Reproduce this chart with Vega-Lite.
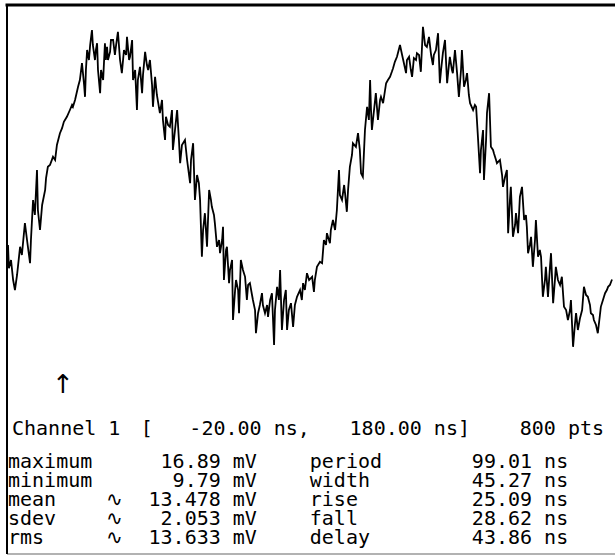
{
  "$schema": "https://vega.github.io/schema/vega-lite/v6.json",
  "width": 608,
  "height": 549,
  "autosize": {"type": "none"},
  "padding": {"left": 7, "top": 5, "right": 0, "bottom": 3},
  "background": "white",
  "config": {"view": {"stroke": null}},
  "layer": [
    {
      "layer": [
        {
          "data": {"values": [
            {"t":-20.0,"v":12.11},{"t":-19.7,"v":11.60},{"t":-19.0,"v":11.78},{"t":-18.3,"v":11.34},{"t":-17.7,"v":11.12},{"t":-17.0,"v":11.45},{"t":-16.0,"v":12.07},{"t":-15.4,"v":11.89},{"t":-14.4,"v":12.59},{"t":-13.7,"v":12.22},{"t":-12.7,"v":11.71},{"t":-12.4,"v":12.22},{"t":-11.7,"v":13.10},{"t":-11.1,"v":12.77},{"t":-10.4,"v":13.76},{"t":-10.1,"v":12.88},{"t":-9.4,"v":12.44},{"t":-8.7,"v":12.99},{"t":-7.7,"v":13.32},{"t":-7.4,"v":13.58},{"t":-6.8,"v":13.83},{"t":-6.1,"v":13.87},{"t":-5.1,"v":14.05},{"t":-4.4,"v":13.98},{"t":-3.8,"v":14.31},{"t":-2.8,"v":14.57},{"t":-2.1,"v":14.68},{"t":-1.5,"v":14.82},{"t":-0.5,"v":14.93},{"t":0.5,"v":15.08},{"t":1.2,"v":15.19},{"t":1.5,"v":15.15},{"t":2.2,"v":15.30},{"t":3.2,"v":15.59},{"t":3.8,"v":15.74},{"t":4.5,"v":16.11},{"t":5.2,"v":15.63},{"t":5.5,"v":15.37},{"t":5.8,"v":15.96},{"t":6.2,"v":16.40},{"t":6.8,"v":16.18},{"t":7.2,"v":16.51},{"t":7.8,"v":16.84},{"t":8.1,"v":16.51},{"t":8.8,"v":16.18},{"t":9.1,"v":16.40},{"t":9.5,"v":16.55},{"t":9.8,"v":15.96},{"t":10.5,"v":15.45},{"t":10.8,"v":15.96},{"t":11.5,"v":15.74},{"t":12.1,"v":16.55},{"t":12.4,"v":16.18},{"t":12.8,"v":16.47},{"t":13.1,"v":16.18},
            {"t":13.8,"v":16.36},{"t":14.1,"v":16.62},{"t":14.8,"v":16.62},{"t":15.4,"v":16.29},{"t":15.8,"v":16.51},{"t":16.4,"v":16.80},{"t":17.1,"v":16.18},{"t":17.7,"v":15.89},{"t":18.4,"v":16.40},{"t":19.1,"v":16.29},{"t":19.4,"v":16.69},{"t":20.1,"v":16.18},{"t":20.4,"v":16.25},{"t":21.1,"v":16.62},{"t":21.4,"v":15.74},{"t":22.1,"v":15.96},{"t":22.7,"v":15.08},{"t":23.0,"v":15.74},{"t":23.7,"v":16.03},{"t":24.4,"v":15.45},{"t":24.7,"v":15.85},{"t":25.4,"v":16.36},{"t":26.0,"v":16.07},{"t":26.4,"v":15.96},{"t":27.0,"v":16.18},{"t":27.7,"v":15.63},{"t":28.0,"v":15.15},{"t":28.7,"v":15.81},{"t":29.3,"v":15.41},{"t":30.3,"v":15.01},{"t":31.0,"v":15.30},{"t":31.3,"v":14.86},{"t":32.0,"v":14.42},{"t":32.3,"v":14.93},{"t":33.0,"v":14.75},{"t":33.6,"v":14.71},{"t":34.3,"v":15.08},{"t":34.6,"v":14.20},{"t":35.3,"v":14.64},{"t":36.0,"v":15.08},{"t":36.6,"v":14.42},{"t":37.0,"v":13.91},{"t":37.6,"v":14.31},{"t":38.6,"v":14.42},{"t":39.3,"v":13.98},{"t":40.3,"v":13.47},{"t":40.6,"v":13.98},{"t":41.3,"v":14.35},{"t":41.9,"v":13.10},{"t":42.6,"v":13.65},{"t":43.2,"v":13.47},{"t":43.6,"v":13.10},
            {"t":44.2,"v":11.85},{"t":44.6,"v":12.44},{"t":45.2,"v":12.81},{"t":45.9,"v":12.07},{"t":46.6,"v":13.32},{"t":47.2,"v":13.10},{"t":47.5,"v":12.95},{"t":48.2,"v":12.77},{"t":48.5,"v":12.59},{"t":49.2,"v":12.07},{"t":49.9,"v":12.22},{"t":50.2,"v":11.93},{"t":50.9,"v":12.22},{"t":51.2,"v":12.51},{"t":51.5,"v":11.34},{"t":52.2,"v":12.00},{"t":52.5,"v":12.07},{"t":53.2,"v":11.27},{"t":53.5,"v":11.56},{"t":54.2,"v":11.78},{"t":54.5,"v":10.46},{"t":55.2,"v":11.12},{"t":55.5,"v":11.34},{"t":56.2,"v":11.12},{"t":56.5,"v":10.61},{"t":57.1,"v":11.78},{"t":57.8,"v":11.56},{"t":58.5,"v":11.41},{"t":59.1,"v":10.90},{"t":59.5,"v":11.23},{"t":60.1,"v":11.27},{"t":60.8,"v":11.01},{"t":61.1,"v":10.90},{"t":61.8,"v":10.68},{"t":62.1,"v":10.17},{"t":62.8,"v":10.61},{"t":63.4,"v":10.79},{"t":64.1,"v":11.05},{"t":64.4,"v":10.79},{"t":65.1,"v":10.61},{"t":65.8,"v":10.79},{"t":66.1,"v":10.53},{"t":66.8,"v":10.90},{"t":67.4,"v":11.05},{"t":68.1,"v":9.91},{"t":68.4,"v":10.68},{"t":69.1,"v":11.19},{"t":69.7,"v":10.90},{"t":70.1,"v":11.56},{"t":70.7,"v":10.24},{"t":71.4,"v":10.90},{"t":72.0,"v":11.12},{"t":72.4,"v":10.24},{"t":73.0,"v":10.68},{"t":73.7,"v":10.83},{"t":74.4,"v":10.31},{"t":75.0,"v":10.79},{"t":75.7,"v":10.97},{"t":76.7,"v":11.12},
            {"t":77.3,"v":10.90},{"t":77.7,"v":11.27},{"t":78.3,"v":11.12},{"t":79.0,"v":11.49},{"t":79.7,"v":11.34},{"t":80.7,"v":11.41},{"t":81.3,"v":11.08},{"t":81.6,"v":11.34},{"t":82.3,"v":11.63},{"t":83.3,"v":11.74},{"t":84.0,"v":11.71},{"t":84.6,"v":12.22},{"t":85.3,"v":12.11},{"t":85.6,"v":12.37},{"t":86.6,"v":12.15},{"t":86.9,"v":12.44},{"t":87.6,"v":12.66},{"t":88.3,"v":12.44},{"t":88.9,"v":12.88},{"t":89.6,"v":13.76},{"t":89.9,"v":13.21},{"t":90.6,"v":13.10},{"t":91.3,"v":13.43},{"t":91.6,"v":13.25},{"t":92.2,"v":12.84},{"t":92.6,"v":13.32},{"t":93.2,"v":13.83},{"t":93.9,"v":14.09},{"t":94.2,"v":14.35},{"t":95.2,"v":14.27},{"t":95.9,"v":14.57},{"t":96.5,"v":14.20},{"t":96.9,"v":13.69},{"t":97.5,"v":13.61},{"t":97.9,"v":14.20},{"t":98.2,"v":14.64},{"t":98.9,"v":15.15},{"t":99.5,"v":14.86},{"t":99.9,"v":15.74},{"t":100.2,"v":15.08},{"t":100.5,"v":14.64},{"t":101.2,"v":15.08},{"t":101.8,"v":15.45},{"t":102.5,"v":14.86},{"t":103.2,"v":15.30},{"t":103.5,"v":15.37},{"t":104.2,"v":15.23},{"t":105.2,"v":15.67},{"t":105.8,"v":15.74},{"t":106.5,"v":15.81},{"t":107.1,"v":15.92},{"t":107.5,"v":16.00},{"t":108.1,"v":16.14},{"t":108.8,"v":16.25},{"t":109.8,"v":16.51},
            {"t":110.5,"v":16.29},{"t":111.1,"v":16.11},{"t":111.8,"v":15.89},{"t":112.1,"v":16.18},{"t":112.8,"v":16.25},{"t":113.4,"v":15.96},{"t":113.8,"v":15.81},{"t":114.4,"v":16.22},{"t":115.1,"v":16.18},{"t":115.4,"v":16.33},{"t":116.1,"v":16.29},{"t":116.7,"v":15.92},{"t":117.4,"v":16.91},{"t":118.1,"v":16.51},{"t":118.7,"v":16.47},{"t":119.4,"v":16.69},{"t":120.1,"v":16.29},{"t":120.7,"v":16.07},{"t":121.0,"v":16.29},{"t":121.7,"v":16.40},{"t":122.4,"v":16.77},{"t":123.0,"v":15.67},{"t":123.4,"v":15.96},{"t":124.0,"v":16.33},{"t":124.7,"v":16.62},{"t":125.4,"v":15.67},{"t":126.0,"v":16.07},{"t":126.3,"v":16.25},{"t":127.0,"v":15.96},{"t":127.3,"v":15.89},{"t":128.0,"v":16.40},{"t":128.7,"v":15.89},{"t":129.3,"v":15.37},{"t":130.0,"v":15.96},{"t":130.3,"v":16.40},{"t":131.0,"v":15.59},{"t":131.6,"v":15.74},{"t":132.0,"v":15.89},{"t":132.6,"v":15.41},{"t":133.0,"v":15.23},{"t":134.0,"v":15.08},{"t":134.6,"v":15.19},{"t":135.0,"v":15.15},{"t":135.6,"v":14.49},{"t":136.3,"v":13.69},{"t":136.6,"v":14.20},{"t":137.3,"v":14.64},{"t":137.6,"v":13.54},{"t":138.3,"v":14.42},{"t":138.6,"v":15.01},{"t":139.3,"v":15.45},{"t":139.6,"v":14.86},{"t":139.9,"v":14.27},{"t":140.6,"v":14.20},{"t":140.9,"v":14.13},{"t":141.6,"v":13.98},{"t":141.9,"v":13.91},{"t":142.9,"v":13.98},{"t":143.6,"v":13.65},{"t":143.9,"v":13.39},{"t":144.6,"v":13.61},
            {"t":145.2,"v":13.76},{"t":145.6,"v":12.37},{"t":146.2,"v":13.10},{"t":146.5,"v":13.39},{"t":147.2,"v":12.29},{"t":147.9,"v":12.55},{"t":148.2,"v":12.81},{"t":148.9,"v":12.37},{"t":149.5,"v":13.17},{"t":150.2,"v":13.39},{"t":150.9,"v":12.66},{"t":151.5,"v":12.77},{"t":151.8,"v":12.51},{"t":152.2,"v":11.93},{"t":152.8,"v":12.11},{"t":153.2,"v":12.29},{"t":153.8,"v":11.63},{"t":154.5,"v":12.22},{"t":154.8,"v":12.66},{"t":155.5,"v":11.85},{"t":156.1,"v":12.00},{"t":156.5,"v":11.85},{"t":157.1,"v":10.97},{"t":157.8,"v":11.34},{"t":158.1,"v":11.63},{"t":158.8,"v":10.97},{"t":159.5,"v":11.67},{"t":159.8,"v":11.93},{"t":160.5,"v":10.83},{"t":161.1,"v":11.34},{"t":161.4,"v":11.63},{"t":162.1,"v":11.34},{"t":162.8,"v":11.23},{"t":163.4,"v":11.41},{"t":164.1,"v":10.75},{"t":164.8,"v":10.68},{"t":165.4,"v":10.46},{"t":166.1,"v":10.68},{"t":166.4,"v":10.90},{"t":167.1,"v":9.87},{"t":167.7,"v":10.35},{"t":168.1,"v":10.61},{"t":168.7,"v":10.24},{"t":169.4,"v":10.50},{"t":170.1,"v":10.68},{"t":170.7,"v":11.19},{"t":171.4,"v":11.01},{"t":172.0,"v":10.97},{"t":172.7,"v":10.79},{"t":173.0,"v":10.61},{"t":173.7,"v":10.57},{"t":174.0,"v":10.46},{"t":174.7,"v":10.35},{"t":175.3,"v":10.17},{"t":176.0,"v":10.57},{"t":176.3,"v":10.75},{"t":177.0,"v":10.90},{"t":177.7,"v":11.05},{"t":178.3,"v":11.12},{"t":178.7,"v":11.19},{"t":179.3,"v":11.23},{"t":180.0,"v":11.35}
          ]},
          "mark": {"type": "line", "color": "black", "strokeWidth": 1.8, "clip": true},
          "encoding": {
            "x": {"field": "t", "type": "quantitative", "scale": {"domain": [-20.33, 180.99], "nice": false, "zero": false}, "axis": null},
            "y": {"field": "v", "type": "quantitative", "scale": {"domain": [5.312, 17.39], "nice": false, "zero": false}, "axis": null}
          }
        },
        {
          "data": {"values": [{}]},
          "mark": {"type": "rule", "color": "black", "strokeWidth": 3, "strokeCap": "square"},
          "encoding": {"y": {"datum": 17.39, "type": "quantitative", "scale": {"domain": [5.312, 17.39], "nice": false, "zero": false}, "axis": null}}
        },
        {
          "data": {"values": [{}]},
          "mark": {"type": "rule", "color": "#999999", "strokeWidth": 1.5},
          "encoding": {"y": {"datum": 5.312, "type": "quantitative", "scale": {"domain": [5.312, 17.39], "nice": false, "zero": false}, "axis": null}}
        },
        {
          "data": {"values": [{}]},
          "mark": {"type": "rule", "color": "black", "strokeWidth": 2},
          "encoding": {"x": {"datum": -20.33, "type": "quantitative", "scale": {"domain": [-20.33, 180.99], "nice": false, "zero": false}, "axis": null}}
        }
      ]
    },
    {
      "data": {"values": [
        {"s":"↑","c":9.2,"r":22.62,"a":"A"},
        {"s":"Channel 1","c":0.82,"r":25.24,"a":"l"},
        {"s":"[","c":22.0,"r":25.24,"a":"l"},
        {"s":"-20.00 ns,","c":49.8,"r":25.24,"a":"r"},
        {"s":"180.00 ns]","c":76.15,"r":25.24,"a":"r"},
        {"s":"800 pts","c":98.2,"r":25.24,"a":"r"},
        {"s":"maximum","c":0.16,"r":27.2,"a":"l"},
        {"s":"16.89 mV","c":41.1,"r":27.2,"a":"r"},
        {"s":"period","c":49.8,"r":27.2,"a":"l"},
        {"s":"99.01 ns","c":92.3,"r":27.2,"a":"r"},
        {"s":"minimum","c":0.16,"r":28.33,"a":"l"},
        {"s":"9.79 mV","c":41.1,"r":28.33,"a":"r"},
        {"s":"width","c":49.8,"r":28.33,"a":"l"},
        {"s":"45.27 ns","c":92.3,"r":28.33,"a":"r"},
        {"s":"mean","c":0.16,"r":29.46,"a":"l"},
        {"s":"∿","c":17.6,"r":29.46,"a":"c"},
        {"s":"13.478 mV","c":41.1,"r":29.46,"a":"r"},
        {"s":"rise","c":49.8,"r":29.46,"a":"l"},
        {"s":"25.09 ns","c":92.3,"r":29.46,"a":"r"},
        {"s":"sdev","c":0.16,"r":30.6,"a":"l"},
        {"s":"∿","c":17.6,"r":30.6,"a":"c"},
        {"s":"2.053 mV","c":41.1,"r":30.6,"a":"r"},
        {"s":"fall","c":49.8,"r":30.6,"a":"l"},
        {"s":"28.62 ns","c":92.3,"r":30.6,"a":"r"},
        {"s":"rms","c":0.16,"r":31.73,"a":"l"},
        {"s":"∿","c":17.6,"r":31.73,"a":"c"},
        {"s":"13.633 mV","c":41.1,"r":31.73,"a":"r"},
        {"s":"delay","c":49.8,"r":31.73,"a":"l"},
        {"s":"43.86 ns","c":92.3,"r":31.73,"a":"r"}
      ]},
      "encoding": {
        "x": {"field": "c", "type": "quantitative", "scale": {"domain": [0, 100], "nice": false, "zero": false}, "axis": null},
        "y": {"field": "r", "type": "quantitative", "scale": {"domain": [0, 32.68], "nice": false, "zero": false, "reverse": true}, "axis": null},
        "text": {"field": "s"}
      },
      "layer": [
        {"transform": [{"filter": "datum.a == 'l'"}], "mark": {"type": "text", "align": "left", "baseline": "middle", "font": "DejaVu Sans Mono", "fontSize": 20, "color": "black"}},
        {"transform": [{"filter": "datum.a == 'r'"}], "mark": {"type": "text", "align": "right", "baseline": "middle", "font": "DejaVu Sans Mono", "fontSize": 20, "color": "black"}},
        {"transform": [{"filter": "datum.a == 'c'"}], "mark": {"type": "text", "align": "center", "baseline": "middle", "font": "DejaVu Sans Mono", "fontSize": 20, "color": "black"}},
        {"transform": [{"filter": "datum.a == 'A'"}], "mark": {"type": "text", "align": "center", "baseline": "middle", "font": "DejaVu Sans", "fontSize": 26, "color": "black"}}
      ]
    }
  ],
  "resolve": {"scale": {"x": "independent", "y": "independent"}}
}
